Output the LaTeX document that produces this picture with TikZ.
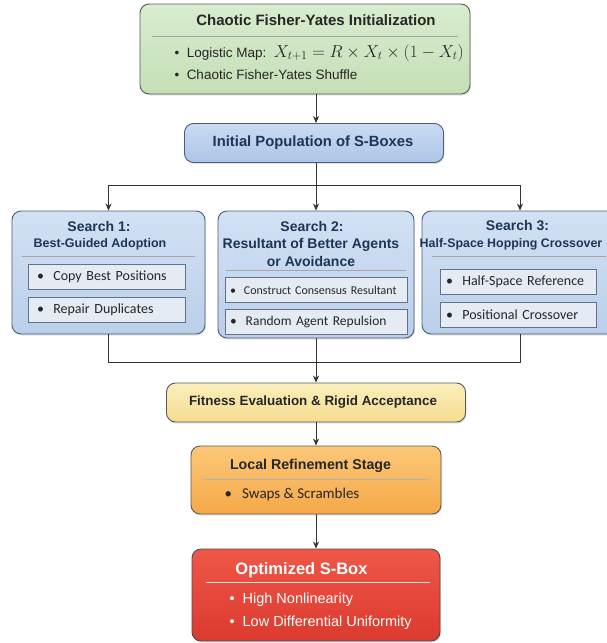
\documentclass[tikz,border=0pt]{standalone}
\usepackage{fontspec}
\setmainfont{Liberation Sans}
\newfontfamily\itemfont{Carlito}
\usetikzlibrary{arrows.meta,shadows}

\definecolor{navy}{HTML}{1F3556}
\definecolor{greentop}{HTML}{D9ECCF}
\definecolor{greenbot}{HTML}{C4DFB6}
\definecolor{bluetop}{HTML}{D2E1F4}
\definecolor{bluebot}{HTML}{BACFEA}
\definecolor{poptop}{HTML}{CADBF2}
\definecolor{popbot}{HTML}{ADC5E8}
\definecolor{itemgray}{HTML}{E5EBF3}
\definecolor{yeltop}{HTML}{FCEFBD}
\definecolor{yelbot}{HTML}{F4DC90}
\definecolor{orgtop}{HTML}{FCC878}
\definecolor{orgbot}{HTML}{F5A848}
\definecolor{redtop}{HTML}{EF5747}
\definecolor{redbot}{HTML}{DC3A2F}

\begin{document}
\begin{tikzpicture}[
  x=1pt, y=-1pt,
  stage/.style={draw=black!65, line width=0.9pt, rounded corners=9pt, inner sep=0pt,
                drop shadow={opacity=0.22, shadow xshift=1pt, shadow yshift=-1.5pt}},
  green/.style={stage, top color=greentop, bottom color=greenbot},
  blue/.style={stage, top color=bluetop, bottom color=bluebot, draw=navy!80},
  yel/.style={stage, top color=yeltop, bottom color=yelbot},
  org/.style={stage, top color=orgtop, bottom color=orgbot},
  red/.style={stage, top color=redtop, bottom color=redbot, draw=black!70},
  ttl/.style={font=\bfseries\fontsize{14.5}{17}\selectfont, text=black!85},
  sttl/.style={font=\bfseries\fontsize{14}{17}\selectfont, text=navy},
  sub/.style={font=\bfseries\fontsize{12.5}{15}\selectfont, text=navy},
  item/.style={draw=navy!70, fill=itemgray, line width=0.7pt, text width=#1, align=left,
               inner xsep=8pt, minimum height=25pt, text=black!85,
               font=\itemfont\fontsize{14}{16}\selectfont},
  bul/.style={anchor=west, font=\fontsize{13.5}{16}\selectfont, text=black!85},
  sep/.style={draw=black!35, line width=0.6pt},
  ln/.style={line width=0.9pt, draw=black!80},
  a/.style={ln, -{Stealth[length=7pt, width=6pt]}}
]
\useasboundingbox (0,0) rectangle (606,643);

% ================= initialisation =================
\node[green, minimum width=330pt, minimum height=90pt] (chaos) at (305,49) {};
\node[ttl, font=\bfseries\fontsize{15}{18}\selectfont] (chaosT) at (316,20)
  {Chaotic Fisher-Yates Initialization};
\draw[sep] (152,36) -- (458,36);
\node[bul] (chaosA) at (171,53)
  {\textbullet\ \ Logistic Map:\ \ {\fontsize{16.5}{18}\selectfont$X_{t+1} = R\times X_t\times(1-X_t)$}};
\node[bul] (chaosB) at (171,75) {\textbullet\ \ Chaotic Fisher-Yates Shuffle};

\node[stage, top color=poptop, bottom color=popbot, draw=navy!80,
      minimum width=259pt, minimum height=39pt] (pop) at (314,143) {};
\node[sub, font=\bfseries\fontsize{14.8}{17}\selectfont] (popT) at (313,143)
  {Initial Population of S-Boxes};

% ================= three searches =================
\node[blue, minimum width=193pt, minimum height=123pt] (s1) at (108.5,272.5) {};
\node[sttl] (s1T) at (99,226) {Search 1:};
\node[sub] (s1S) at (100,244) {Best-Guided Adoption};
\draw[sep] (22,256) -- (195,256);
\node[item=139pt, inner xsep=9pt] (s1a) at (106.5,276.5) {\textbullet\ \ Copy Best Positions};
\node[item=139pt, inner xsep=9pt] (s1b) at (106.5,309.5) {\textbullet\ \ Repair Duplicates};

\node[blue, minimum width=196pt, minimum height=127pt] (s2) at (316,274.5) {};
\node[sttl] (s2T) at (312,226) {Search 2:};
\node[sub, align=center, font=\bfseries\fontsize{14}{17.5}\selectfont] (s2S) at (311,252.5)
  {Resultant of Better Agents\\or Avoidance};
\draw[sep] (226,270) -- (406,270);
\node[item=176pt, inner xsep=3pt, font=\itemfont\fontsize{12}{14}\selectfont] (s2a) at (316,290)
  {\hspace*{2pt}\textbullet\ \ Construct Consensus Resultant};
\node[item=176pt, inner xsep=3pt, font=\itemfont\fontsize{13.5}{15}\selectfont] (s2b) at (316,321.5)
  {\hspace*{2pt}\textbullet\ \ Random Agent Repulsion};

\node[blue, minimum width=196pt, minimum height=123pt] (s3) at (520,272.5) {};
\node[sttl] (s3T) at (517.5,226) {Search 3:};
\node[sub, font=\bfseries\fontsize{12.4}{15}\selectfont] (s3S) at (511,244)
  {Half-Space Hopping Crossover};
\draw[sep] (432,256) -- (606,256);
\node[item=144pt, inner xsep=6pt] (s3a) at (518,282) {\textbullet\ \ Half-Space Reference};
\node[item=144pt, inner xsep=6pt] (s3b) at (518,315) {\textbullet\ \ Positional Crossover};

% ================= evaluation and refinement =================
\node[yel, minimum width=299pt, minimum height=39pt] (fit) at (316,402.5) {};
\node[ttl, font=\bfseries\fontsize{13.4}{16}\selectfont] (fitT) at (313,402.5)
  {Fitness Evaluation \& Rigid Acceptance};

\node[org, minimum width=250pt, minimum height=68pt] (loc) at (316,480) {};
\node[ttl, font=\bfseries\fontsize{14.2}{17}\selectfont] (locT) at (310.5,466)
  {Local Refinement Stage};
\draw[sep, draw=black!30] (203,479) -- (429,479);
\node[bul, font=\itemfont\fontsize{15}{17}\selectfont] (locA) at (221,494)
  {\textbullet\ \ \ Swaps \& Scrambles};

\node[red, minimum width=248pt, minimum height=92pt] (best) at (316,595) {};
\node[ttl, text=white, font=\bfseries\fontsize{16.5}{19}\selectfont] (bestT) at (301.5,570)
  {Optimized S-Box};
\draw[sep, draw=white!85!red] (206,582) -- (430,582);
\node[bul, text=white, font=\fontsize{14.5}{17}\selectfont] (bestA) at (226,600)
  {\textbullet\ \ High Nonlinearity};
\node[bul, text=white, font=\fontsize{14.5}{17}\selectfont] (bestB) at (226,623)
  {\textbullet\ \ Low Differential Uniformity};

% ================= connectors =================
\coordinate (spine) at (316,0);
\coordinate (fork) at (316,185);
\coordinate (join) at (316,362);
\draw[a] (chaos.south -| spine) -- (pop.north -| spine);
\draw[ln] (pop.south -| spine) -- (fork);
\draw[ln] (fork -| s1) -- (fork -| s3);
\draw[a] (fork -| s1) -- (s1.north);
\draw[a] (fork) -- (s2.north);
\draw[a] (fork -| s3) -- (s3.north);
\draw[ln] (s1.south) -- (join -| s1) -- (join -| s3) -- (s3.south);
\draw[ln] (s2.south) -- (join);
\draw[a] (join) -- (fit.north);
\draw[a] (fit.south) -- (loc.north);
\draw[a] (loc.south) -- (best.north);
\end{tikzpicture}
\end{document}
